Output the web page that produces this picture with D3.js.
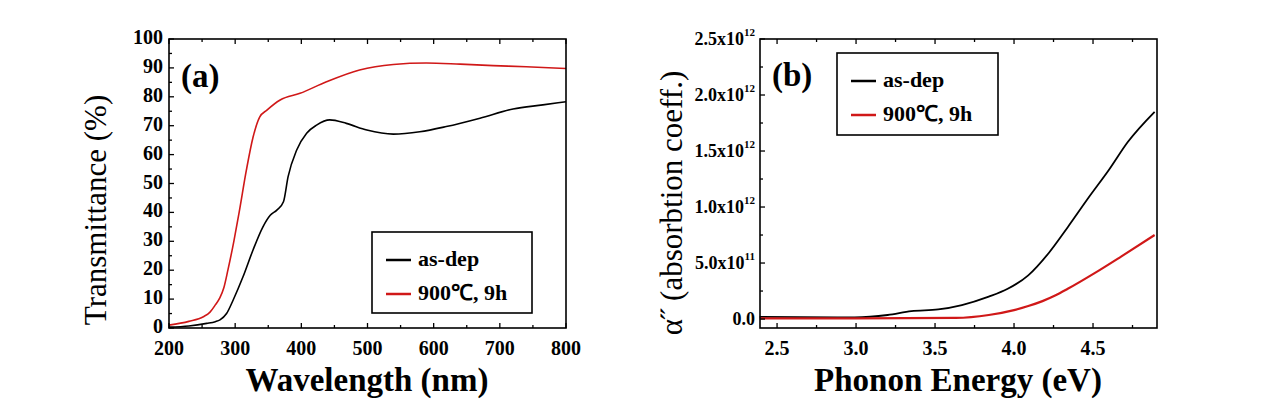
<!DOCTYPE html>
<html><head><meta charset="utf-8">
<script src="https://cdn.jsdelivr.net/npm/d3@7"></script>
</head>
<body style="margin:0;background:#fff">
<svg id="c" width="1285" height="415"></svg>
<script>
// Panel (a): Transmittance vs wavelength
const wlAsDep = [200,230,257,270,277,287,297,312,327,342,353,363,373,380,393,408,423,443,468,499,539,579,619,670,720,765,800];
const tAsDep  = [0.3,0.7,1.6,2.2,2.8,5,9.7,17.8,27,35,39,40.8,43.7,52.4,61.6,67.4,70.2,72,70.8,68.5,67.1,67.9,69.7,72.6,75.8,77.2,78.3];
const wl900   = [200,230,252,262,270,277,283,289,298,306,317,327,337,348,368,398,438,488,539,589,640,690,740,800];
const t900    = [1,2.3,3.9,5.5,8,10.5,14,20,30,40,54.7,66,73,75.4,78.9,81.2,85.2,89.3,91.2,91.7,91.3,90.8,90.4,89.8];
const aXTicks = [200,300,400,500,600,700,800];
const aYTicks = [0,10,20,30,40,50,60,70,80,90,100];

// Panel (b): absorption coefficient vs photon energy (units of 1e12)
const eAsDep = [2.39,2.99,3.2,3.35,3.52,3.67,3.84,3.96,4.09,4.22,4.34,4.47,4.6,4.72,4.89];
const aAsDep = [0.02,0.015,0.036,0.071,0.086,0.125,0.2,0.27,0.39,0.59,0.82,1.08,1.33,1.58,1.85];
const e900   = [2.39,3.0,3.63,3.84,4.0,4.09,4.18,4.26,4.34,4.51,4.68,4.89];
const a900   = [0.006,0.006,0.01,0.036,0.08,0.116,0.16,0.21,0.27,0.41,0.56,0.75];
const bXTicks = [2.5,3.0,3.5,4.0,4.5];
const bYTicks = [0,0.5,1.0,1.5,2.0,2.5];
const bYLabels = ["0.0","5.0x10|11","1.0x10|12","1.5x10|12","2.0x10|12","2.5x10|12"];

const seriesNames = ["as-dep","900\u2103, 9h"];
const colors = ["#000000","#d01818"];

const FONT = '"Liberation Serif"';
const svg = d3.select("#c");

function txt(g){ return g.append("text").style("font-family", FONT); }

function frame(g, x, y, xTicks, xMinor, yTicks, yMinor){
  const [x0,x1] = x.range(), [y0,y1] = y.range();
  const tick = (cls, arr, len, fn) => g.selectAll("line."+cls).data(arr).join("line").attr("class",cls)
     .attr("stroke","#000").attr("stroke-width",1.3).each(function(d){fn(d3.select(this),d,len);});
  [[xTicks,5],[xMinor,3]].forEach(([arr,len],i)=>{
    tick("bx"+i, arr, len, (s,d,l)=>s.attr("x1",x(d)).attr("x2",x(d)).attr("y1",y0).attr("y2",y0-l));
    tick("tx"+i, arr, len, (s,d,l)=>s.attr("x1",x(d)).attr("x2",x(d)).attr("y1",y1).attr("y2",y1+l));
  });
  [[yTicks,5],[yMinor,3]].forEach(([arr,len],i)=>{
    tick("ly"+i, arr, len, (s,d,l)=>s.attr("y1",y(d)).attr("y2",y(d)).attr("x1",x0).attr("x2",x0+l));
  });
  g.append("rect").attr("x",x0).attr("y",y1).attr("width",x1-x0).attr("height",y0-y1)
    .attr("fill","none").attr("stroke","#000").attr("stroke-width",1.6);
}

function legend(g, bx, by, bw, bh){
  g.append("rect").attr("x",bx).attr("y",by).attr("width",bw).attr("height",bh)
   .attr("fill","#fff").attr("stroke","#000").attr("stroke-width",1.6);
  seriesNames.forEach((n,i)=>{
    const yy = by + 28 + i*34;
    g.append("line").attr("x1",bx+14).attr("x2",bx+39).attr("y1",yy).attr("y2",yy)
      .attr("stroke",colors[i]).attr("stroke-width",2.5);
    txt(g).attr("x",bx+46).attr("y",yy+6).attr("font-size",22).attr("font-weight","bold").text(n);
  });
}

// ---------- Panel (a)
{
  const xa = d3.scaleLinear().domain([200,800]).range([169,566]);
  const ya = d3.scaleLinear().domain([0,100]).range([328,39]);
  const g = svg.append("g");
  const line = d3.line().curve(d3.curveMonotoneX).x(d=>xa(d[0])).y(d=>ya(d[1]));
  g.append("path").datum(wl900.map((w,i)=>[w,t900[i]])).attr("d",line)
    .attr("fill","none").attr("stroke",colors[1]).attr("stroke-width",1.6);
  g.append("path").datum(wlAsDep.map((w,i)=>[w,tAsDep[i]])).attr("d",line)
    .attr("fill","none").attr("stroke",colors[0]).attr("stroke-width",1.6);
  const xMinor = d3.range(250,800,100);
  const yMinor = d3.range(5,100,10);
  frame(g, xa, ya, aXTicks, xMinor, aYTicks, yMinor);
  aXTicks.forEach(d=>txt(g).attr("x",xa(d)).attr("y",355).attr("text-anchor","middle")
    .attr("font-size",20).attr("font-weight","bold").text(d));
  aYTicks.forEach(d=>txt(g).attr("x",163).attr("y",ya(d)+5).attr("text-anchor","end")
    .attr("font-size",20).attr("font-weight","bold").text(d));
  txt(g).attr("x",367).attr("y",391).attr("text-anchor","middle")
    .attr("font-size",33).attr("font-weight","bold").text("Wavelength (nm)");
  txt(g).attr("transform","translate(106,210) rotate(-90)").attr("text-anchor","middle")
    .attr("font-size",31).text("Transmittance (%)");
  txt(g).attr("x",181).attr("y",87).attr("font-size",33).attr("font-weight","bold").text("(a)");
  legend(g, 372, 232, 160, 81);
}

// ---------- Panel (b)
{
  const xb = d3.scaleLinear().domain([2.392,4.905]).range([760,1157]);
  const yb = d3.scaleLinear().domain([-0.08,2.5]).range([328,39]);
  const g = svg.append("g");
  const line = d3.line().curve(d3.curveMonotoneX).x(d=>xb(d[0])).y(d=>yb(d[1]));
  g.append("path").datum(eAsDep.map((e,i)=>[e,aAsDep[i]])).attr("d",line)
    .attr("fill","none").attr("stroke",colors[0]).attr("stroke-width",1.8);
  g.append("path").datum(e900.map((e,i)=>[e,a900[i]])).attr("d",line)
    .attr("fill","none").attr("stroke",colors[1]).attr("stroke-width",2.2);
  const xMinor = [2.75,3.25,3.75,4.25,4.75];
  const yMinor = [0.25,0.75,1.25,1.75,2.25];
  frame(g, xb, yb, bXTicks, xMinor, bYTicks, yMinor);
  bXTicks.forEach(d=>txt(g).attr("x",xb(d)).attr("y",355).attr("text-anchor","middle")
    .attr("font-size",20).attr("font-weight","bold").text(d.toFixed(1)));
  bYTicks.forEach((v,i)=>{
    const parts = bYLabels[i].split("|");
    const t = txt(g).attr("x",755).attr("y",yb(v)+6).attr("text-anchor","end")
      .attr("font-size",18).attr("font-weight","bold");
    t.append("tspan").text(parts[0]);
    if(parts[1]) t.append("tspan").attr("dy",-9).attr("font-size",11).text(parts[1]);
  });
  txt(g).attr("x",958).attr("y",391).attr("text-anchor","middle")
    .attr("font-size",33).attr("font-weight","bold").text("Phonon Energy (eV)");
  txt(g).attr("transform","translate(682,203) rotate(-90)").attr("text-anchor","middle")
    .attr("font-size",31).text("\u03B1\u02DD (absorbtion coeff.)");
  txt(g).attr("x",772).attr("y",86).attr("font-size",33).attr("font-weight","bold").text("(b)");
  legend(g, 837, 53, 161, 82);
}
</script></body></html>
